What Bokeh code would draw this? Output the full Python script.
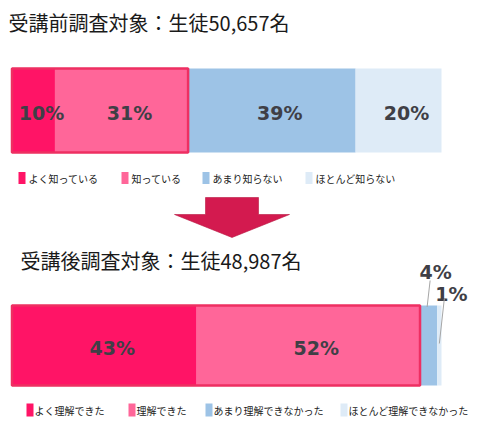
from bokeh.plotting import figure
from bokeh.models import Range1d, ColumnDataSource
from bokeh.core.properties import value
from bokeh.embed import file_html
from bokeh.resources import INLINE

# ---------------- data ----------------
before_title = "受講前調査対象：生徒50,657名"
after_title = "受講後調査対象：生徒48,987名"
before_labels = ["よく知っている", "知っている", "あまり知らない", "ほとんど知らない"]
before_values = [10, 31, 39, 20]
after_labels = ["よく理解できた", "理解できた", "あまり理解できなかった", "ほとんど理解できなかった"]
after_values = [43, 52, 4, 1]
colors = ["#ff1466", "#ff6699", "#9dc3e6", "#deebf7"]

# ---------------- layout helpers ----------------
W, H = 480, 431
X0, K = 11.5, 4.295          # pixel of 0 %, pixels per 1 %


def dx(pixels):
    """pixel distance -> data distance along x"""
    return pixels / K


def px(x_pixel):
    """pixel position -> data x"""
    return (x_pixel - X0) / K


def stacked(vals):
    lefts, rights, c = [], [], 0
    for v in vals:
        lefts.append(c)
        c += v
        rights.append(c)
    return lefts, rights


p = figure(width=W, height=H, x_range=Range1d(px(0), px(W)), y_range=Range1d(H, 0),
           output_backend="svg", toolbar_location=None, min_border=0,
           x_axis_location=None, y_axis_location=None)
p.grid.visible = False
p.outline_line_color = None
p.background_fill_color = "white"
p.border_fill_color = "white"

JP = value("Noto Sans CJK JP")
NUM = value("DejaVu Sans")
LABEL_COLOR = "#3f3f46"
OUTLINE = "#ee2f62"


def draw_bar(vals, labels, yc, h, title, title_x, title_y, leg_sq_x, leg_txt_dx, leg_y, leg_h, inside):
    lefts, rights = stacked(vals)
    src = ColumnDataSource(dict(left=lefts, right=rights, color=colors,
                                mid=[(a + b) / 2 for a, b in zip(lefts, rights)],
                                txt=[f"{v}%" for v in vals]))
    p.hbar(y=yc, left="left", right="right", height=h, fill_color="color",
           line_color=None, source=src)
    # red frame around the two "positive" answers
    p.quad(left=0, right=rights[1], top=yc - h / 2, bottom=yc + h / 2,
           fill_color=None, line_color=OUTLINE, line_width=2.5)
    # inside labels
    ins = ColumnDataSource(dict(x=[src.data["mid"][i] for i in inside],
                                t=[src.data["txt"][i] for i in inside]))
    p.text(x="x", y=yc + 2, text="t", source=ins, x_offset=8,
           text_align="center", text_baseline="middle", text_font=NUM,
           text_font_style="bold", text_font_size="19px", text_color=LABEL_COLOR)
    # title
    p.text(x=[px(title_x)], y=[title_y], text=[title], text_font=JP,
           text_font_size="20px", text_align="left", text_baseline="middle",
           text_color="#1a1a1a")
    # legend
    p.rect(x=[px(x + 3.5) for x in leg_sq_x], y=leg_y, width=dx(7), height=leg_h,
           fill_color=colors, line_color=None)
    p.text(x=[px(x + leg_txt_dx) for x in leg_sq_x], y=leg_y, text=labels,
           text_font=JP, text_font_size="10px", text_align="left",
           text_baseline="middle", text_color="#222222")
    return src


draw_bar(before_values, before_labels, yc=110, h=84, title=before_title,
         title_x=8, title_y=21.5, leg_sq_x=[18, 121, 202, 305], leg_txt_dx=10,
         leg_y=177.5, leg_h=12, inside=[0, 1, 2, 3])

src_after = draw_bar(after_values, after_labels, yc=345, h=80, title=after_title,
                     title_x=20, title_y=259.5, leg_sq_x=[26, 128, 205, 340], leg_txt_dx=8,
                     leg_y=409.5, leg_h=13, inside=[0, 1])

# outside labels for the small segments, with leader lines
mids = src_after.data["mid"]
txts = src_after.data["txt"]
out_x = [mids[2] + dx(7), mids[3] + dx(12)]
out_y = [271.5, 293.5]
p.text(x=out_x, y=out_y, text=[txts[2], txts[3]], text_align="center",
       text_baseline="middle", text_font=NUM, text_font_style="bold",
       text_font_size="19px", text_color=LABEL_COLOR)
p.segment(x0=[mids[2] + dx(1.5), mids[3] + dx(5)], y0=[280, 298],
          x1=[mids[2] - dx(1.5), mids[3]], y1=[306.5, 343],
          line_color="#a6a6a6", line_width=1)

# big arrow between the two bars
ac, top, neck, tip = 231.5, 197, 214, 237
sh, hw = 26.5, 57.5
ax = [ac - sh, ac + sh, ac + sh, ac + hw, ac, ac - hw, ac - sh]
ay = [top, top, neck, neck, tip, neck, neck]
p.patch(x=[px(v) for v in ax], y=ay, fill_color="#d31a4f", line_color="#b9163f",
        line_width=0.6)

open("out.html", "w").write(file_html(p, INLINE))
